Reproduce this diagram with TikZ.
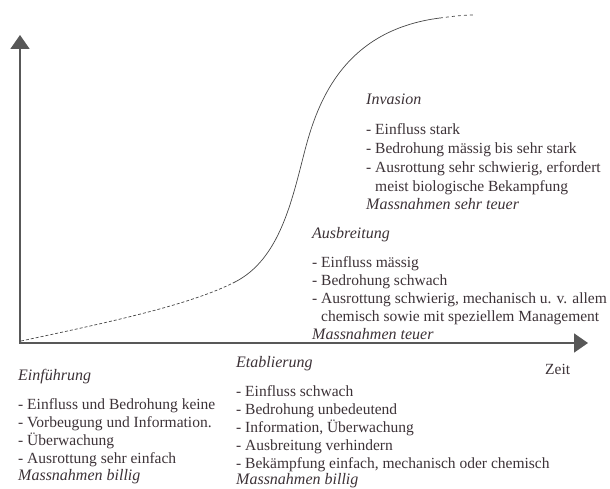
\documentclass[tikz,border=0pt]{standalone}
\usepackage{fontspec}
\setmainfont{Liberation Serif}
\usetikzlibrary{arrows.meta,positioning}
\definecolor{axisgray}{RGB}{88,88,88}
\definecolor{inkgray}{RGB}{60,50,55}
\tikzset{
  phasetitle/.style={anchor=base west,inner sep=0pt,text=inkgray,
    font=\fontsize{16}{18}\selectfont\itshape},
  phaselist/.style={anchor=north west,inner sep=0pt,align=left,text=inkgray,
    font=\fontsize{15.5}{18}\selectfont},
  axisline/.style={line width=1.8pt,draw=axisgray,line cap=rect,
    -{Triangle[length=14pt,width=19pt]}},
  growth/.style={draw=black!72,line width=0.7pt},
}
\newcommand{\cost}[1]{\fontsize{16}{18}\selectfont\itshape #1}
\newcommand{\cont}{\hspace*{9pt}}

\begin{document}
\begin{tikzpicture}[x=1pt,y=-1pt,node distance=18.5pt]
  \useasboundingbox (0,0) rectangle (610,489);
  % axes
  \coordinate (origin) at (20,343);
  \coordinate (ytip) at (20,35);
  \coordinate (xtip) at (588,343);
  \draw[axisline] (origin) -- (ytip);
  \draw[axisline] (origin) -- (xtip);
  \node[anchor=base west,inner sep=0pt,text=inkgray,font=\fontsize{15.5}{18}\selectfont]
    (zeit) at (545,374) {Zeit};
  % growth curve
  \coordinate (c0) at (21,341);
  \coordinate (c1) at (235,282);
  \coordinate (c2) at (305,150);
  \coordinate (c3) at (440,18);
  \coordinate (c4) at (474,15);
  \draw[growth,densely dashed] (c0) .. controls (110,322) and (190,305) .. (c1);
  \draw[growth] (c1) .. controls (280,259) and (292,200) .. (c2)
    .. controls (318,100) and (345,30) .. (c3);
  \draw[growth,dashed] (c3) .. controls (455,16) and (465,15) .. (c4);
  % phases
  \node[phasetitle] (einT) at (18,380) {Einführung};
  \node[phaselist,below=of einT.base west,anchor=north west] (einL)
    {- Einfluss und Bedrohung keine\\
     - Vorbeugung und Information.\\
     - Überwachung\\
     - Ausrottung sehr einfach\\[-1.5pt]
     \cost{Massnahmen billig}};
  \node[phasetitle] (etaT) at (236,367) {Etablierung};
  \node[phaselist,below=of etaT.base west,anchor=north west] (etaL)
    {- Einfluss schwach\\
     - Bedrohung unbedeutend\\
     - Information, Überwachung\\
     - Ausbreitung verhindern\\
     - Bekämpfung einfach, mechanisch oder chemisch\\[-2pt]
     \cost{Massnahmen billig}};
  \node[phasetitle] (ausT) at (312,238) {Ausbreitung};
  \node[phaselist,below=of ausT.base west,anchor=north west] (ausL)
    {- Einfluss mässig\\
     - Bedrohung schwach\\
     - Ausrottung schwierig, mechanisch u. v. allem\\
     \cont chemisch sowie mit speziellem Management\\
     \cost{Massnahmen teuer}};
  \node[phasetitle] (invT) at (366,105) {Invasion};
  \node[phaselist,below=of invT.base west,anchor=north west,
    font=\fontsize{15.5}{18.8}\selectfont] (invL)
    {- Einfluss stark\\
     - Bedrohung mässig bis sehr stark\\
     - Ausrottung sehr schwierig, erfordert\\
     \cont meist biologische Bekampfung\\
     \cost{Massnahmen sehr teuer}};
\end{tikzpicture}
\end{document}
